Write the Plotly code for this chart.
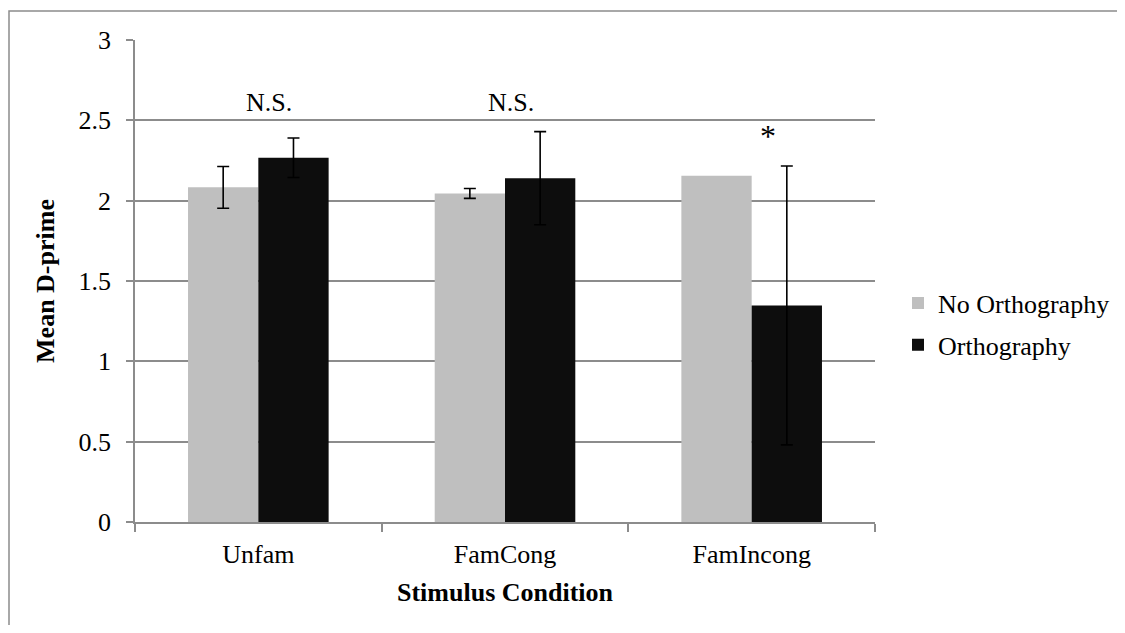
import plotly.graph_objects as go

categories = ["Unfam", "FamCong", "FamIncong"]
no_orth = [2.083, 2.045, 2.155]
no_orth_err_cats = ["Unfam", "FamCong"]
no_orth_err_vals = [2.083, 2.045]
no_orth_err = [0.13, 0.031]
orth = [2.267, 2.14, 1.348]
orth_err = [0.123, 0.29, 0.868]
annot_text = ["N.S.", "N.S.", "*"]
annot_y = [2.61, 2.61, 2.40]
annot_shift = [11, 6, 16]
annot_size = [26, 26, 32]
y_ticks = [0, 0.5, 1, 1.5, 2, 2.5, 3]
y_ticklabels = ["0", "0.5", "1", "1.5", "2", "2.5", "3"]

FONT = "Liberation Serif, Times New Roman, serif"
FS = 26
GRID = "#8c8c8c"

fig = go.Figure()
fig.add_trace(go.Bar(
    x=categories, y=no_orth, name="No Orthography",
    marker=dict(color="#bfbfbf", line=dict(width=0)),
    offsetgroup="g1", legendgroup="a",
))
fig.add_trace(go.Bar(
    x=no_orth_err_cats, y=no_orth_err_vals, name="No Orthography",
    marker=dict(color="rgba(0,0,0,0)", line=dict(width=0)),
    error_y=dict(type="data", array=no_orth_err, visible=True,
                 color="black", thickness=1.6, width=6),
    offsetgroup="g1", legendgroup="a", showlegend=False, hoverinfo="skip",
))
fig.add_trace(go.Bar(
    x=categories, y=orth, name="Orthography",
    marker=dict(color="#0d0d0d", line=dict(width=0)),
    error_y=dict(type="data", array=orth_err, visible=True,
                 color="black", thickness=1.6, width=6),
    offsetgroup="g2", legendgroup="b",
))

for c, t, yv, sh, sz in zip(categories, annot_text, annot_y, annot_shift, annot_size):
    fig.add_annotation(x=c, y=yv, text=t, showarrow=False, xshift=sh,
                       font=dict(family=FONT, size=sz, color="black"))

# page body has an 8px margin; coordinates below are relative to the plot div
W, H = 1109, 617
L, R, T, B = 127, 867, 32, 514
fig.add_shape(type="rect", xref="paper", yref="paper",
              x0=(1 - L) / (R - L), x1=(1200 - L) / (R - L),
              y0=(B - 700) / (B - T), y1=(B - 3) / (B - T),
              line=dict(color=GRID, width=1.5), fillcolor="rgba(0,0,0,0)", layer="below")

fig.update_layout(
    width=W, height=H,
    margin=dict(l=L, r=W - R, t=T, b=H - B, autoexpand=False),
    paper_bgcolor="white", plot_bgcolor="white",
    font=dict(family=FONT, size=FS, color="black"),
    barmode="group", bargap=0.43, bargroupgap=0,
    showlegend=True,
    legend=dict(x=(890 - L) / (R - L), xanchor="left",
                y=(B - 316) / (B - T), yanchor="middle",
                font=dict(family=FONT, size=FS, color="black"),
                traceorder="grouped", tracegroupgap=5,
                itemwidth=30, bgcolor="rgba(0,0,0,0)"),
    xaxis=dict(
        showline=True, linecolor=GRID, linewidth=1.5,
        ticks="outside", tickson="boundaries", ticklen=8, tickcolor=GRID, tickwidth=1.5,
        showgrid=False, automargin=False, ticklabelstandoff=8,
        title=dict(text="<b>Stimulus Condition</b>", standoff=15,
                   font=dict(family=FONT, size=FS)),
        tickfont=dict(family=FONT, size=FS),
    ),
    yaxis=dict(
        range=[0, 3], tickvals=y_ticks, ticktext=y_ticklabels,
        showline=True, linecolor=GRID, linewidth=1.5,
        ticks="outside", ticklen=7, tickcolor=GRID, tickwidth=1.5,
        showgrid=True, gridcolor=GRID, gridwidth=1.5, zeroline=False,
        automargin=False, ticklabelstandoff=10,
        title=dict(text="<b>Mean D-prime</b>", standoff=16,
                   font=dict(family=FONT, size=FS)),
        tickfont=dict(family=FONT, size=FS),
    ),
)

fig.write_html("out.html")
